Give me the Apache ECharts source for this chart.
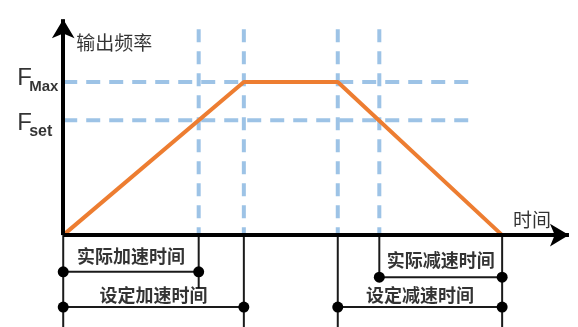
<!DOCTYPE html>
<html>
<head>
<meta charset="utf-8">
<script src="https://cdn.jsdelivr.net/npm/echarts@6/dist/echarts.min.js"></script>
<style>
  html, body { margin: 0; padding: 0; background: #fff; }
  #chart { width: 578px; height: 327px; }
</style>
</head>
<body>
<div id="chart"></div>
<script>
  // 输出频率曲线（时间单位任意，频率按 FMax = 100）
  const curveTime = [0, 10, 15.2, 24.3]
  const curveFreq = [0, 100, 100, 0]

  // 频率刻度
  const freqLevels = [100, 75]
  const freqNames = ['Max', 'set']

  // 竖向虚线（到达 Fset / FMax 的时刻）
  const guideTimes = [7.5, 10, 15.2, 17.5]

  // 坐标轴下方的时间区间
  const spanNames = ['实际加速时间', '设定加速时间', '实际减速时间', '设定减速时间']
  const spanStart = [0, 0, 17.5, 15.2]
  const spanEnd = [7.5, 10, 24.3, 24.3]
  const spanRow = [-24, -47, -27.5, -47]
  const spanTextY = [-14, -39.5, -16.3, -39.5]

  // 区间竖线：时刻 / 下端
  const dropTimes = [0, 7.5, 10, 15.2, 17.5, 24.3]
  const dropEnds = [-60, -34.5, -60, -60, -27.5, -60]

  // 轴标题
  const axisTitles = ['输出频率', '时间']
  const axisTitlePos = [[2.82, 125.4], [25.95, 9.8]]

  const X_MIN = -3.5
  const X_MAX = 28.5
  const Y_MIN = -60
  const Y_MAX = 147
  const GUIDE_TOP = 134.5
  const GUIDE_RIGHT = 22.75
  const AXIS_END_X = 28
  const AXIS_END_Y = 141

  const blue = '#9DC3E6'
  const orange = '#ED7D31'
  const dark = '#1a1a1a'
  const cjk = '"Noto Sans CJK SC", "Noto Sans", sans-serif'
  const latin = '"Liberation Sans", "DejaVu Sans", sans-serif'

  const series = []

  // 竖向虚线
  guideTimes.forEach((t) => {
    series.push({
      type: 'line',
      data: [[t, GUIDE_TOP], [t, 0]],
      symbol: 'none',
      lineStyle: { color: blue, width: 4, type: [13, 9] }
    })
  })
  // 横向虚线
  freqLevels.forEach((f) => {
    series.push({
      type: 'line',
      data: [[0, f], [GUIDE_RIGHT, f]],
      symbol: 'none',
      lineStyle: { color: blue, width: 4, type: [14, 9] }
    })
  })
  // 区间竖线
  dropTimes.forEach((t, i) => {
    series.push({
      type: 'line',
      data: [[t, 0], [t, dropEnds[i]]],
      symbol: 'none',
      lineStyle: { color: dark, width: 2 }
    })
  })
  // 区间横线 + 端点
  spanNames.forEach((name, i) => {
    series.push({
      type: 'line',
      data: [[spanStart[i], spanRow[i]], [spanEnd[i], spanRow[i]]],
      symbol: 'circle',
      symbolSize: 11,
      itemStyle: { color: '#000' },
      lineStyle: { color: dark, width: 2 }
    })
  })
  // 坐标轴（带箭头）
  series.push({
    type: 'line',
    data: [],
    markLine: {
      silent: true,
      symbol: ['none', 'arrow'],
      symbolSize: [17, 19],
      label: { show: false },
      lineStyle: { color: '#000', width: 4, type: 'solid' },
      data: [
        [{ coord: [0, 0] }, { coord: [AXIS_END_X, 0] }],
        [{ coord: [0, 0] }, { coord: [0, AXIS_END_Y] }]
      ]
    }
  })
  // 文字
  const textData = axisTitles.map((name, i) => ({
    name: name,
    value: axisTitlePos[i],
    label: { fontSize: 19, fontWeight: 'normal' }
  })).concat(spanNames.map((name, i) => ({
    name: name,
    value: [(spanStart[i] + spanEnd[i]) / 2, spanTextY[i]],
    label: { fontSize: 18, fontWeight: 'bold' }
  })))
  // F 标签：大写 F + 下标（位置按像素偏移）
  const capShift = [[-46, -3.4], [-46, 3.6]]
  const subShift = [[-34, 4.5], [-34, 11.5]]
  const subSize = [15, 16]
  freqLevels.forEach((f, i) => {
    textData.push({
      name: 'F',
      value: [0, f],
      label: {
        show: true, position: 'inside', formatter: 'F',
        fontSize: 24, fontFamily: latin, color: '#000', align: 'left', offset: capShift[i]
      }
    })
    textData.push({
      name: freqNames[i],
      value: [0, f],
      label: {
        show: true, position: 'inside', formatter: freqNames[i],
        fontSize: subSize[i], fontWeight: 'bold', fontFamily: latin, color: '#000', align: 'left', offset: subShift[i]
      }
    })
  })
  series.push({
    type: 'scatter',
    data: textData,
    symbolSize: 1,
    z: 5,
    itemStyle: { color: 'transparent' },
    label: {
      show: true,
      position: 'inside',
      formatter: '{b}',
      color: '#000',
      fontFamily: cjk
    }
  })
  // 输出频率
  series.push({
    type: 'line',
    data: curveTime.map((t, i) => [t, curveFreq[i]]),
    symbol: 'none',
    lineStyle: { color: orange, width: 4 }
  })

  const chart = echarts.init(document.getElementById('chart'))
  chart.setOption({
    animation: false,
    backgroundColor: '#fff',
    grid: { left: 0, right: 0, top: 10, bottom: 0 },
    xAxis: {
      type: 'value',
      min: X_MIN,
      max: X_MAX,
      show: false
    },
    yAxis: {
      type: 'value',
      min: Y_MIN,
      max: Y_MAX,
      show: false
    },
    series: series
  })
</script>
</body>
</html>
